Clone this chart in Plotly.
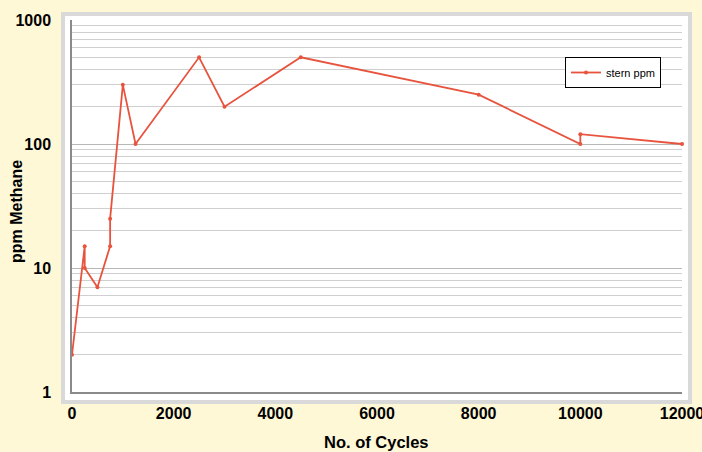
import plotly.graph_objects as go

cycles = [0, 250, 250, 500, 750, 750, 1000, 1250, 2500, 3000, 4500, 8000, 10000, 10000, 12000]
methane_ppm = [2, 15, 10, 7, 15, 25, 300, 100, 500, 200, 500, 250, 100, 120, 100]
x_ticks = [0, 2000, 4000, 6000, 8000, 10000, 12000]
y_ticks = [1, 10, 100, 1000]

BG = "#FEF8D7"
RED = "#E8533E"
FONT = "Liberation Sans, Arial, sans-serif"

fig = go.Figure()
fig.add_trace(go.Scatter(
    x=cycles, y=methane_ppm, mode="lines+markers", name="stern ppm",
    line=dict(color=RED, width=1.8), marker=dict(color=RED, size=4),
    cliponaxis=False,
))

L, R, T, B = 72, 20, 20, 60
W, H = 702, 452
pw, ph = W - L - R, H - T - B

fig.update_layout(
    width=W, height=H, autosize=False,
    margin=dict(l=L, r=R, t=T, b=B, autoexpand=False),
    paper_bgcolor=BG, plot_bgcolor="white",
    font=dict(family=FONT, color="black", size=13),
    showlegend=True,
    legend=dict(x=(565 - L) / pw, y=(392 - 57) / ph, xanchor="left", yanchor="top",
                bgcolor="white", bordercolor="black", borderwidth=1,
                font=dict(size=11, family=FONT), itemwidth=30,
                tracegroupgap=0),
    xaxis=dict(range=[0, 12000], tickvals=x_ticks, ticktext=[str(v) for v in x_ticks],
               showgrid=False, zeroline=False, showline=True, linecolor="#8a8a8a", linewidth=1.5,
               ticks="", ticklabelstandoff=6, automargin=False, ticklabeloverflow="allow",
               tickfont=dict(size=16, family=FONT, weight="bold")),
    yaxis=dict(type="log", range=[0, 3], tickvals=y_ticks, ticktext=[str(v) for v in y_ticks],
               showgrid=True, gridcolor="#b8b8b8", gridwidth=1.2,
               minor=dict(dtick="D1", showgrid=True, gridcolor="#cfcfcf", gridwidth=1),
               zeroline=False, showline=True, linecolor="#8a8a8a", linewidth=1.5,
               ticks="", ticklabelstandoff=16, automargin=False, ticklabeloverflow="allow",
               tickfont=dict(size=16, family=FONT, weight="bold")),
    annotations=[
        dict(text="<b>No. of Cycles</b>", xref="paper", yref="paper",
             x=(376 - L) / pw, y=(392 - 442) / ph, xanchor="center", yanchor="middle",
             showarrow=False, font=dict(size=16.5, family=FONT)),
        dict(text="<b>ppm Methane</b>", xref="paper", yref="paper", textangle=-90,
             x=(16 - L) / pw, y=(392 - 212) / ph, xanchor="center", yanchor="middle",
             showarrow=False, font=dict(size=16, family=FONT)),
    ],
)

# light grey frame around the plot area (as in the reference)
fig.add_shape(type="rect", xref="paper", yref="paper",
              x0=-9 / pw, x1=1 + 8 / pw, y0=-10 / ph, y1=1 + 6 / ph,
              fillcolor="white", line=dict(color="#d9d9d9", width=4), layer="below")

fig.write_html("out.html", config={"displayModeBar": False},
               post_script="document.body.style.margin='0';document.body.style.background='%s';" % BG)
